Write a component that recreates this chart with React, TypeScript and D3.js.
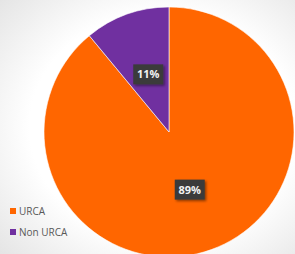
import * as d3 from 'd3';
import React, { useEffect, useRef } from 'react';

const categories = ['URCA', 'Non URCA'];
const values = [89, 11];
const colors = ['#FF6600', '#7030A0'];

const W = 295;
const H = 254;

const PieChart = () => {
  const ref = useRef<SVGSVGElement>(null);

  useEffect(() => {
    const svg = d3.select(ref.current);
    svg.selectAll('*').remove();

    const cx = 169, cy = 132, r = 125;
    const data = categories.map((c, i) => ({ type: c, value: values[i] }));
    const color = d3.scaleOrdinal<string>().domain(categories).range(colors);

    const defs = svg.append('defs');
    const grad = defs.append('radialGradient').attr('id', 'bgshade')
      .attr('cx', '0.55').attr('cy', '0.5').attr('r', '0.75');
    grad.append('stop').attr('offset', '0.6').attr('stop-color', '#ffffff');
    grad.append('stop').attr('offset', '1').attr('stop-color', '#e4e4e4');
    const sh = defs.append('filter').attr('id', 'lblshadow')
      .attr('x', '-30%').attr('y', '-30%').attr('width', '160%').attr('height', '160%');
    sh.append('feDropShadow').attr('dx', 1.5).attr('dy', 1.5).attr('stdDeviation', 1.2)
      .attr('flood-color', '#000').attr('flood-opacity', 0.45);

    svg.append('rect').attr('width', W).attr('height', H).attr('fill', 'url(#bgshade)');

    const pie = d3.pie<{ type: string; value: number }>().sort(null).value(d => d.value);
    const arc = d3.arc<d3.PieArcDatum<{ type: string; value: number }>>()
      .innerRadius(0).outerRadius(r);
    const labelArc = d3.arc<d3.PieArcDatum<{ type: string; value: number }>>()
      .innerRadius(r * 0.49).outerRadius(r * 0.49);

    const g = svg.append('g').attr('transform', `translate(${cx},${cy})`);
    const arcs = pie(data);
    g.selectAll('path').data(arcs).enter().append('path')
      .attr('d', arc)
      .attr('fill', d => color(d.data.type))
      .attr('stroke', '#ffffff')
      .attr('stroke-width', 0.6);

    const total = d3.sum(values);
    const lbl = g.selectAll('.lbl').data(arcs).enter().append('g')
      .attr('transform', d => `translate(${labelArc.centroid(d)})`);
    lbl.append('rect')
      .attr('x', -15).attr('y', -10).attr('width', 30).attr('height', 20)
      .attr('fill', '#3b3b3b')
      .attr('filter', 'url(#lblshadow)');
    lbl.append('text')
      .attr('text-anchor', 'middle').attr('dy', '0.36em')
      .attr('fill', '#f2f2f2')
      .style('font-family', 'Open Sans, Liberation Sans, sans-serif')
      .style('font-size', '11px').style('font-weight', 'bold')
      .text(d => `${Math.round((d.data.value / total) * 100)}%`);

    const legend = svg.append('g').attr('transform', 'translate(10,207)');
    const item = legend.selectAll('g').data(categories).enter().append('g')
      .attr('transform', (d, i) => `translate(0,${i * 21})`);
    item.append('rect').attr('width', 6).attr('height', 6).attr('y', 1)
      .attr('fill', d => color(d));
    item.append('text').attr('x', 9).attr('y', 8)
      .attr('fill', '#595959')
      .style('font-family', 'Open Sans, Liberation Sans, sans-serif')
      .style('font-size', '10px')
      .text(d => d);
  }, []);

  return <svg ref={ref} width={W} height={H} style={{ display: 'block' }}></svg>;
};

export default function App() {
  return (
    <div style={{ position: 'absolute', left: 0, top: 0 }}>
      <PieChart />
    </div>
  );
}
